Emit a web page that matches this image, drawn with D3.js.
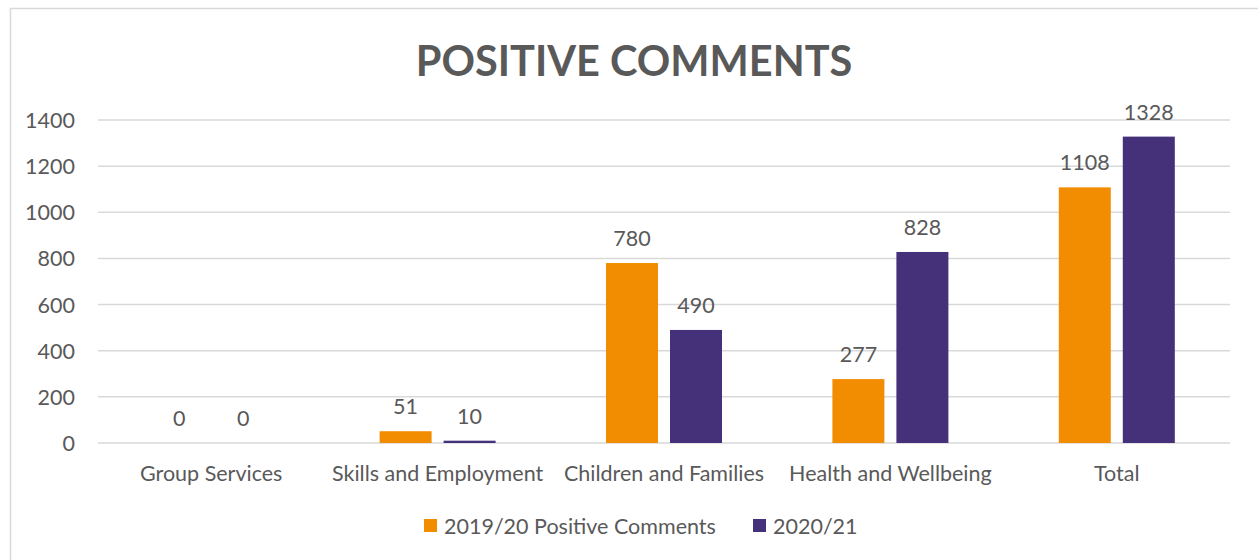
<!DOCTYPE html>
<html>
<head>
<meta charset="utf-8">
<script src="https://cdn.jsdelivr.net/npm/d3@7/dist/d3.min.js"></script>
<style>
  html, body { margin: 0; padding: 0; background: #fff; }
  svg { display: block; }
  text { font-family: Lato, "Open Sans", sans-serif; fill: #595959; }
</style>
</head>
<body>
<svg id="chart" width="1258" height="560"></svg>
<script>
// Positive comments per business area, two reporting years
const categories = ["Group Services", "Skills and Employment", "Children and Families", "Health and Wellbeing", "Total"];
const series2019 = [0, 51, 780, 277, 1108];
const series2020 = [0, 10, 490, 828, 1328];
const seriesNames = ["2019/20 Positive Comments", "2020/21"];
const yTicks = [0, 200, 400, 600, 800, 1000, 1200, 1400];

const colors = ["#F28C00", "#44317A"];
const FS = 21.5;

const svg = d3.select("#chart");
const W = 1258, H = 560;

// chart frame
svg.append("rect")
  .attr("x", 10.5).attr("y", 8.5)
  .attr("width", W + 10).attr("height", H + 10)
  .attr("fill", "#fff").attr("stroke", "#d9d9d9").attr("stroke-width", 1.5);

// title
svg.append("text")
  .attr("x", 634).attr("y", 76)
  .attr("text-anchor", "middle")
  .attr("font-size", 41.5).attr("font-weight", 700)
  .text("POSITIVE COMMENTS");

const plot = { left: 98, right: 1230, top: 120, bottom: 443 };

const x = d3.scaleBand().domain(categories).range([plot.left, plot.right]).padding(0);
const y = d3.scaleLinear().domain([0, 1400]).range([plot.bottom, plot.top]);

const barW = 52, gap = 12;

// gridlines
svg.append("g").selectAll("line").data(yTicks).join("line")
  .attr("x1", plot.left).attr("x2", plot.right)
  .attr("y1", d => y(d)).attr("y2", d => y(d))
  .attr("stroke", "#d9d9d9").attr("stroke-width", 1.5);

// y axis labels
const yAxis = d3.axisLeft(y).tickValues(yTicks).tickFormat(d3.format("d")).tickSize(0).tickPadding(0);
const yg = svg.append("g").attr("transform", `translate(75,0)`).call(yAxis);
yg.select(".domain").remove();
yg.selectAll("text").attr("font-size", FS).attr("dy", "0.35em").style("font-family", null);

// x axis labels
const xAxis = d3.axisBottom(x).tickSize(0).tickPadding(0);
const xg = svg.append("g").attr("transform", `translate(0,${plot.bottom})`).call(xAxis);
xg.select(".domain").remove();
xg.selectAll("text").attr("font-size", FS).attr("y", 38).attr("dy", 0).style("font-family", null);

const seriesData = [series2019, series2020];

seriesData.forEach((vals, si) => {
  const offset = si === 0 ? -(barW + gap / 2) : gap / 2;
  const g = svg.append("g");
  g.selectAll("rect").data(vals).join("rect")
    .attr("x", (d, i) => x(categories[i]) + x.bandwidth() / 2 + offset)
    .attr("y", d => y(d))
    .attr("width", barW)
    .attr("height", d => y(0) - y(d))
    .attr("fill", colors[si]);
  g.selectAll("text").data(vals).join("text")
    .attr("x", (d, i) => x(categories[i]) + x.bandwidth() / 2 + offset + barW / 2)
    .attr("y", d => y(d) - 17)
    .attr("text-anchor", "middle")
    .attr("font-size", FS)
    .text(d => d);
});

// legend
const legend = svg.append("g");
const legendItems = [
  { name: seriesNames[0], x: 424 },
  { name: seriesNames[1], x: 753 }
];
legendItems.forEach((it, i) => {
  legend.append("rect")
    .attr("x", it.x).attr("y", 519).attr("width", 13).attr("height", 13)
    .attr("fill", colors[i]);
  legend.append("text")
    .attr("x", it.x + 20).attr("y", 534)
    .attr("font-size", FS)
    .text(it.name);
});
</script>
</body>
</html>
